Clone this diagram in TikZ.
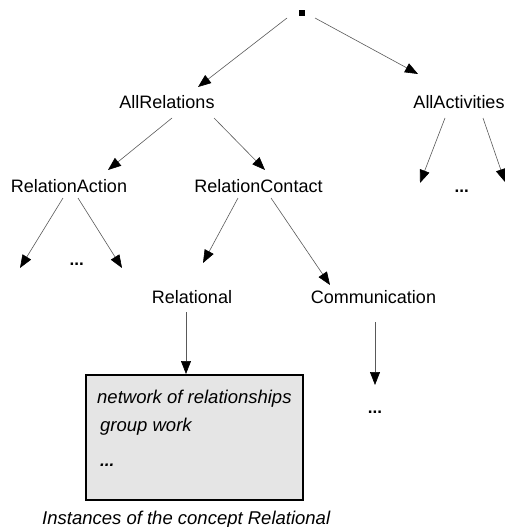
\documentclass[tikz,border=0pt]{standalone}
\usepackage{fontspec}
\setmainfont{Liberation Sans}
\usepackage{tikz}
\usetikzlibrary{arrows, arrows.meta}

\tikzset{
  lbl/.style={inner sep=0pt, anchor=base, font=\fontsize{18}{21}\selectfont},
  itl/.style={inner sep=0pt, anchor=base west, font=\fontsize{18.5}{22}\selectfont\itshape},
  dots/.style={inner sep=0pt, anchor=base, font=\fontsize{17}{20}\selectfont\bfseries},
  arr/.style={draw=black!65, line width=0.6pt, -{Triangle[length=13pt, width=10pt, color=black]}},
  instbox/.style={draw=black, line width=1.3pt, fill=black!10, minimum width=217pt, minimum height=125pt, inner sep=0pt}
}

\begin{document}
\begin{tikzpicture}[x=1pt, y=-1pt]
\useasboundingbox (0,0) rectangle (505,527);

\node[fill=black, minimum size=6pt, inner sep=0pt] (root) at (301.7,13.3) {};
\node[lbl] (allrel) at (167,108) {AllRelations};
\node[lbl] (allact) at (459,108) {AllActivities};
\node[lbl] (relact) at (69,192) {RelationAction};
\node[lbl] (relcon) at (258.5,192) {RelationContact};
\node[lbl] (relational) at (192,303) {Relational};
\node[lbl] (comm) at (373.5,303) {Communication};

\node[dots] (dotsact) at (461.7,192) {...};
\node[dots] (dotsra) at (76.7,265) {...};
\node[dots] (dotscomm) at (375,413) {...};

\node[instbox] (inst) at (194.5,437.5) {};
\node[itl] (inst1) at (97,403) {network of relationships};
\node[itl] (inst2) at (100,431) {group work};
\node[itl, font=\fontsize{17}{20}\selectfont\bfseries\itshape] (inst3) at (100,466) {...};
\node[itl] (caption) at (42,524) {Instances of the concept Relational};

\coordinate (r1) at (287,18);   \coordinate (t1) at (198,87);
\coordinate (r2) at (315,18);   \coordinate (t2) at (418,74);
\coordinate (a1) at (172,118);  \coordinate (t3) at (108,170);
\coordinate (a2) at (214,118);  \coordinate (t4) at (265,170);
\coordinate (b1) at (445,118);  \coordinate (t5) at (420,183);
\coordinate (b2) at (483,118);  \coordinate (t6) at (505,182);
\coordinate (c1) at (63,198);   \coordinate (t7) at (20,268);
\coordinate (c2) at (78,198);   \coordinate (t8) at (122,268);
\coordinate (d1) at (238,198);  \coordinate (t9) at (203,263);
\coordinate (d2) at (271,198);  \coordinate (t10) at (330,285);
\coordinate (e1) at (186,312);  \coordinate (t11) at (186,374);
\coordinate (f1) at (375,322);  \coordinate (t12) at (375,385);

\draw[arr] (r1) -- (t1);
\draw[arr] (r2) -- (t2);
\draw[arr] (a1) -- (t3);
\draw[arr] (a2) -- (t4);
\draw[arr] (b1) -- (t5);
\draw[arr] (b2) -- (t6);
\draw[arr] (c1) -- (t7);
\draw[arr] (c2) -- (t8);
\draw[arr] (d1) -- (t9);
\draw[arr] (d2) -- (t10);
\draw[arr] (e1) -- (t11);
\draw[arr] (f1) -- (t12);
\end{tikzpicture}
\end{document}
